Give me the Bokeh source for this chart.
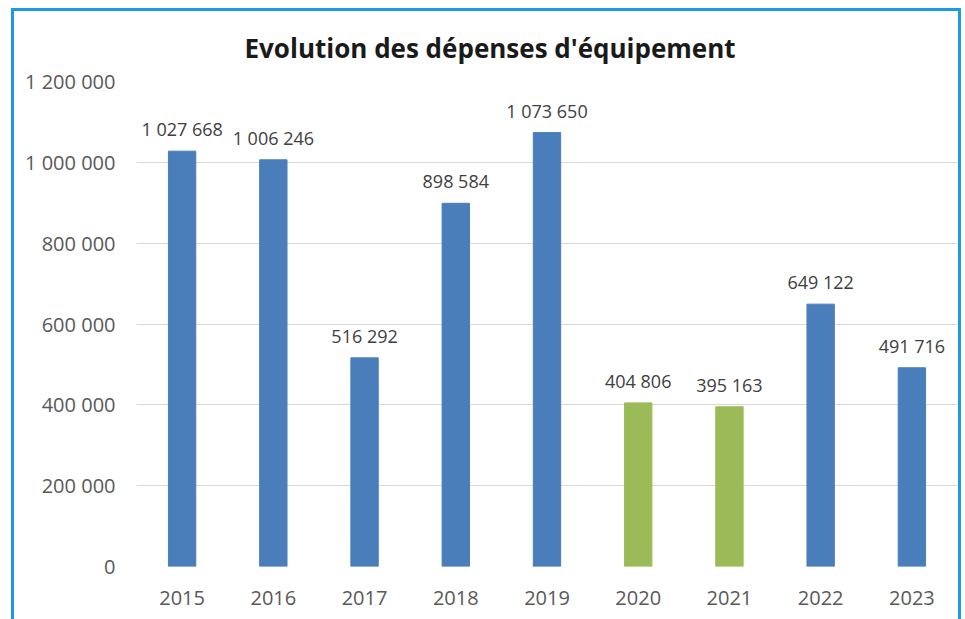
from bokeh.plotting import figure
from bokeh.models import ColumnDataSource, FixedTicker, CustomJSTickFormatter, Range1d, Title
from bokeh.core.properties import value
from bokeh.embed import file_html
from bokeh.resources import INLINE

years = ["2015", "2016", "2017", "2018", "2019", "2020", "2021", "2022", "2023"]
depenses = [1027668, 1006246, 516292, 898584, 1073650, 404806, 395163, 649122, 491716]
bar_colors = ["#4a7ebb", "#4a7ebb", "#4a7ebb", "#4a7ebb", "#4a7ebb",
              "#9bbb59", "#9bbb59", "#4a7ebb", "#4a7ebb"]
y_ticks = [0, 200000, 400000, 600000, 800000, 1000000, 1200000]
title_text = "Evolution des dépenses d'équipement"

def fmt(v):
    return f"{v:,}".replace(",", " ")

labels = [fmt(v) for v in depenses]

src = ColumnDataSource(dict(x=years, top=depenses, color=bar_colors, label=labels))

FONT = "Open Sans"

p = figure(x_range=years, y_range=Range1d(0, 1200000), width=950, height=611,
           output_backend="svg", toolbar_location=None,
           min_border_left=122, min_border_right=7, min_border_top=0, min_border_bottom=56)
p.title = None
t = Title(text=title_text, align="left", offset=108, text_font=FONT, text_font_size="26px",
          text_font_style="bold", text_color="#1a1a1a", standoff=32)
p.add_layout(t, "above")

p.vbar(x="x", top="top", width=0.3, color="color", source=src)
p.text(x="x", y="top", text="label", source=src, text_align="center",
       text_baseline="alphabetic", y_offset=-22, text_font=value(FONT),
       text_font_size="18px", text_color="#404040")

p.outline_line_color = None
p.xgrid.grid_line_color = None
p.ygrid.grid_line_color = "#d9d9d9"
p.ygrid.grid_line_width = 1

p.yaxis.ticker = FixedTicker(ticks=y_ticks)
p.yaxis.formatter = CustomJSTickFormatter(code="return tick.toString().replace(/\\B(?=(\\d{3})+(?!\\d))/g, ' ');")
for ax in (p.xaxis, p.yaxis):
    ax.axis_line_color = None
    ax.major_tick_line_color = None
    ax.minor_tick_line_color = None
    ax.major_label_text_font = FONT
    ax.major_label_text_font_size = "20px"
    ax.major_label_text_color = "#595959"
p.yaxis.major_label_standoff = 15
p.xaxis.major_label_standoff = 18
p.x_range.range_padding = 0.0

p.styles = {"margin-left": "11px", "margin-top": "8px",
            "border-top": "3px solid #1d9be0", "border-left": "3px solid #1d9be0",
            "border-right": "3px solid #1d9be0"}

open("out.html", "w").write(file_html(p, INLINE))
